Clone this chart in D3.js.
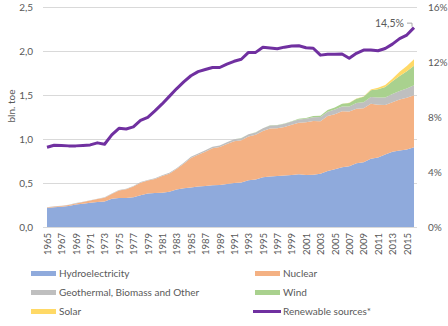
<!DOCTYPE html>
<html><head><meta charset="utf-8">
<script src="https://cdn.jsdelivr.net/npm/d3@7"></script>
<style>
body{margin:0;background:#fff;}
svg text{font-family:Lato, "Liberation Sans", sans-serif;fill:#595959;}
</style></head>
<body><svg id="c" width="448" height="326"></svg>
<script>
const years = d3.range(1965, 2017);
const hydro = [0.215,0.225,0.23,0.24,0.255,0.265,0.275,0.285,0.29,0.32,0.33,0.33,0.338,0.36,0.38,0.385,0.39,0.40,0.425,0.44,0.45,0.46,0.465,0.475,0.477,0.49,0.50,0.505,0.53,0.54,0.565,0.575,0.58,0.585,0.59,0.60,0.59,0.595,0.605,0.635,0.655,0.68,0.69,0.725,0.735,0.775,0.79,0.825,0.855,0.87,0.88,0.905];
const nuclear = [0.006,0.008,0.009,0.011,0.013,0.018,0.025,0.033,0.043,0.055,0.086,0.099,0.123,0.143,0.148,0.161,0.189,0.206,0.233,0.278,0.335,0.362,0.391,0.421,0.431,0.453,0.474,0.48,0.498,0.507,0.526,0.545,0.541,0.552,0.571,0.584,0.601,0.61,0.598,0.625,0.627,0.635,0.622,0.62,0.614,0.626,0.60,0.56,0.564,0.58,0.59,0.592];
const other = [0.003,0.003,0.003,0.003,0.004,0.004,0.004,0.004,0.005,0.005,0.005,0.006,0.006,0.007,0.007,0.008,0.009,0.010,0.011,0.012,0.013,0.014,0.015,0.016,0.018,0.020,0.022,0.024,0.026,0.028,0.030,0.032,0.034,0.036,0.037,0.039,0.040,0.043,0.046,0.050,0.052,0.055,0.058,0.063,0.068,0.075,0.081,0.087,0.093,0.095,0.105,0.115];
const wind = [0,0,0,0,0,0,0,0,0,0,0,0,0,0,0,0,0,0,0,0,0,0,0,0,0,0.001,0.001,0.001,0.001,0.002,0.002,0.003,0.003,0.004,0.005,0.007,0.009,0.012,0.014,0.019,0.024,0.030,0.039,0.050,0.062,0.078,0.095,0.118,0.143,0.170,0.195,0.220];
const solar = [0,0,0,0,0,0,0,0,0,0,0,0,0,0,0,0,0,0,0,0,0,0,0,0,0,0,0,0,0,0,0,0,0,0,0,0,0,0,0,0,0.001,0.001,0.002,0.003,0.005,0.008,0.015,0.023,0.031,0.048,0.060,0.075];
const share = [5.8,5.95,5.92,5.9,5.9,5.93,5.97,6.12,6.02,6.7,7.18,7.13,7.28,7.75,7.98,8.45,8.95,9.5,10.05,10.55,11.0,11.3,11.45,11.6,11.6,11.85,12.05,12.2,12.7,12.7,13.07,13.02,12.97,13.08,13.16,13.18,13.04,13.0,12.5,12.56,12.56,12.58,12.27,12.63,12.87,12.87,12.82,12.98,13.3,13.7,13.96,14.5];
const leftTicks = [0,0.5,1,1.5,2,2.5];
const rightTicks = [0,4,8,12,16];
const yearTicks = d3.range(1965, 2016, 2);
const seriesNames = ["Hydroelectricity","Nuclear","Geothermal, Biomass and Other","Wind","Solar"];
const colors = ["#8FAADC","#F4B183","#BFBFBF","#A9D18E","#FFD966"];
const lineName = "Renewable sources*";
const lineColor = "#7030A0";

const svg = d3.select("#c");
const x = d3.scaleLinear().domain([1965, 2016]).range([47, 414]);
const y = d3.scaleLinear().domain([0, 2.5]).range([227, 7]);
const y2 = d3.scaleLinear().domain([0, 16]).range([227, 7]);
const fmt = d3.format(".1f");

// gridlines
svg.append("g").selectAll("line").data(leftTicks).join("line")
  .attr("x1", 43).attr("x2", 417)
  .attr("y1", d => y(d)).attr("y2", d => y(d))
  .attr("stroke", "#D9D9D9").attr("stroke-width", 1).attr("shape-rendering","crispEdges");

// stacked area
const table = years.map((yr, i) => ({year: yr, s0: hydro[i], s1: nuclear[i], s2: other[i], s3: wind[i], s4: solar[i]}));
const stack = d3.stack().keys(["s0","s1","s2","s3","s4"]);
const stacked = stack(table);
const area = d3.area().x(d => x(d.data.year)).y0(d => y(d[0])).y1(d => y(d[1]));
svg.append("g").selectAll("path").data(stacked).join("path")
  .attr("d", area).attr("fill", (d, i) => colors[i]);

// line
const line = d3.line().x((d, i) => x(years[i])).y(d => y2(d));
svg.append("path").datum(share).attr("d", line)
  .attr("fill", "none").attr("stroke", lineColor).attr("stroke-width", 3).attr("stroke-linejoin","round");

// axes
const gl = svg.append("g").attr("transform", "translate(43,0)")
  .call(d3.axisLeft(y).tickValues(leftTicks).tickSize(0).tickPadding(10).tickFormat(d => fmt(d).replace(".", ",")));
gl.select(".domain").remove();
gl.selectAll("text").style("font-size", "10px").attr("fill", "#595959");

const gr = svg.append("g").attr("transform", "translate(417,0)")
  .call(d3.axisRight(y2).tickValues(rightTicks).tickSize(0).tickPadding(11).tickFormat(d => d + "%"));
gr.select(".domain").remove();
gr.selectAll("text").style("font-size", "10px").attr("fill", "#595959");

const gx = svg.append("g").attr("transform", "translate(0,227)")
  .call(d3.axisBottom(x).tickValues(yearTicks).tickSize(0).tickFormat(d3.format("d")));
gx.select(".domain").remove();
gx.selectAll("text").style("font-size", "9.5px").attr("fill", "#595959")
  .attr("transform", "rotate(-90)").attr("text-anchor", "end")
  .attr("x", -6).attr("y", 0).attr("dy", "0.35em");

// y title
svg.append("text").attr("transform", "translate(15,106) rotate(-90)")
  .attr("text-anchor", "middle").style("font-size", "10px").text("bln. toe");

// annotation
const lastX = x(2016), lastY = y2(share[share.length - 1]);
svg.append("text").attr("x", lastX - 10).attr("y", lastY - 1).attr("text-anchor", "end")
  .style("font-size", "10.5px").attr("fill", "#404040").text("14,5%");
svg.append("path").attr("d", `M${lastX-7},${lastY-4.5}H${lastX-2}V${lastY-1}`)
  .attr("fill", "none").attr("stroke", "#A6A6A6").attr("stroke-width", 1);

// legend
const legendItems = [
  {name: seriesNames[0], color: colors[0], col: 0, row: 0},
  {name: seriesNames[1], color: colors[1], col: 1, row: 0},
  {name: seriesNames[2], color: colors[2], col: 0, row: 1},
  {name: seriesNames[3], color: colors[3], col: 1, row: 1},
  {name: seriesNames[4], color: colors[4], col: 0, row: 2},
  {name: lineName, color: lineColor, col: 1, row: 2, line: true}
];
const lg = svg.append("g").selectAll("g").data(legendItems).join("g")
  .attr("transform", d => `translate(${d.col ? 255 : 31},${273.5 + d.row * 19})`);
lg.filter(d => !d.line).append("rect").attr("x", 0).attr("y", -2.5).attr("width", 25).attr("height", 5).attr("fill", d => d.color);
lg.filter(d => d.line).append("line").attr("x1", -2).attr("x2", 26).attr("y1", 0).attr("y2", 0)
  .attr("stroke", d => d.color).attr("stroke-width", 3);
lg.append("text").attr("x", 28).attr("y", 0).attr("dy", "0.35em").style("font-size", "10px").text(d => d.name);
</script></body></html>
